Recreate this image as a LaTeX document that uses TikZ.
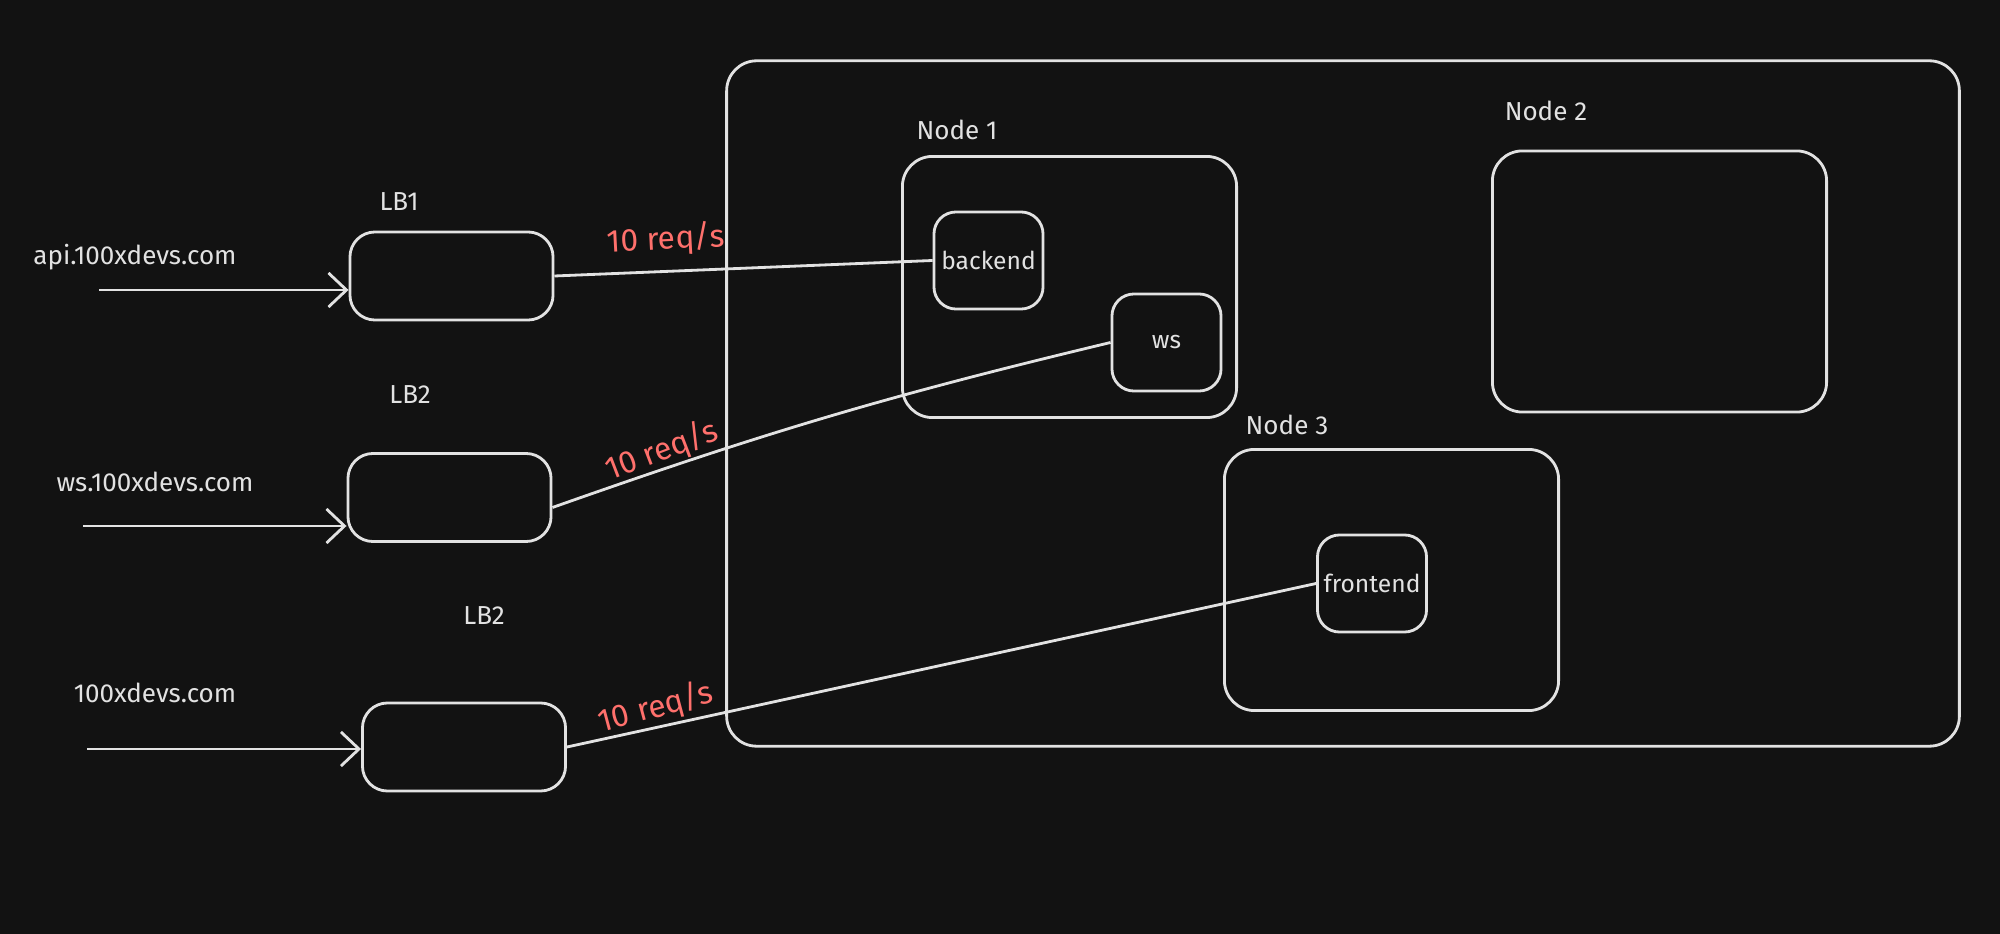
\documentclass[tikz,border=0pt]{standalone}
\usepackage{fontspec}
\setmainfont{Fira Sans}
\usetikzlibrary{positioning,arrows.meta,calc}
\definecolor{boardbg}{RGB}{18,18,18}
\definecolor{chalk}{RGB}{226,226,226}
\definecolor{ratered}{RGB}{255,112,108}
\tikzset{
  cluster/.style={draw=chalk, rounded corners=3mm, line width=0.8pt},
  hostbox/.style={draw=chalk, rounded corners=3mm, line width=0.8pt,
                  minimum width=3.34cm, minimum height=2.61cm},
  lbbox/.style={draw=chalk, rounded corners=2.5mm, line width=0.8pt,
                minimum width=2.03cm, minimum height=0.88cm},
  svcbox/.style={draw=chalk, rounded corners=2.2mm, line width=0.8pt,
                 minimum width=1.09cm, minimum height=0.97cm, inner sep=0pt,
                 text=chalk, font=\fontsize{7}{9}\selectfont},
  lbl/.style={text=chalk, font=\fontsize{7.4}{9}\selectfont},
  rate/.style={text=ratered, font=\fontsize{9}{11}\selectfont},
  wire/.style={draw=chalk, line width=0.8pt},
  feed/.style={wire, -{Straight Barb[length=1.8mm,width=3.4mm]}}
}
\begin{document}
\begin{tikzpicture}[x=0.01cm, y=-0.01cm]
        \fill[boardbg] (0,0) rectangle (2000,934);
        \useasboundingbox (0,0) rectangle (2000,934);
        % cluster with its three hosts
        \node[cluster, minimum width=12.32cm, minimum height=6.85cm] (k8s) at (1343,403.5) {};
        \node[hostbox] (host1) at (1069.5,287) {};
        \node[hostbox] (host2) at (1659.5,281.5) {};
        \node[hostbox] (host3) at (1391.5,580) {};
        \node[lbl] (host1lbl) at (957,130) {Node 1};
        \node[lbl] (host2lbl) at (1546,111) {Node 2};
        \node[lbl] (host3lbl) at (1287,425) {Node 3};
        \node[svcbox] (backend) at (988.5,260.5) {backend};
        \node[svcbox] (ws) at (1166.5,342.5) {ws};
        \node[svcbox] (frontend) at (1372,583.5) {frontend};
        % load balancers
        \node[lbbox] (lbapi) at (451.5,276) {};
        \node[lbbox] (lbws) at (449.5,497.5) {};
        \node[lbbox] (lbweb) at (464,747) {};
        \node[lbl] (lbapilbl) at (399,202) {LB1};
        \node[lbl] (lbwslbl) at (410,395) {LB2};
        \node[lbl] (lbweblbl) at (484,616) {LB2};
        % incoming traffic
        \node[lbl] (apihost) at (135,257) {api.100xdevs.com};
        \node[lbl] (wshost) at (155,482) {ws.100xdevs.com};
        \node[lbl] (webhost) at (155,693) {100xdevs.com};
        \coordinate (apiin) at (99,290);
        \coordinate (wsin) at (83,526);
        \coordinate (webin) at (87,749);
        \draw[feed] (apiin) -- (apiin -| lbapi.west);
        \draw[feed] (wsin) -- (wsin -| lbws.west);
        \draw[feed] (webin) -- (webin -| lbweb.west);
        % routes
        \draw[wire] (lbapi.east) -- (backend.west);
        \draw[wire] ([yshift=-1mm]lbws.east) to[bend left=3] (ws.west);
        \draw[wire] (lbweb.east) -- (frontend.west);
        \node[rate, rotate=3] (apirate) at (666,240) {10 req/s};
        \node[rate, rotate=21] (wsrate) at (662,451) {10 req/s};
        \node[rate, rotate=15] (webrate) at (656,708) {10 req/s};
      \end{tikzpicture}
\end{document}
